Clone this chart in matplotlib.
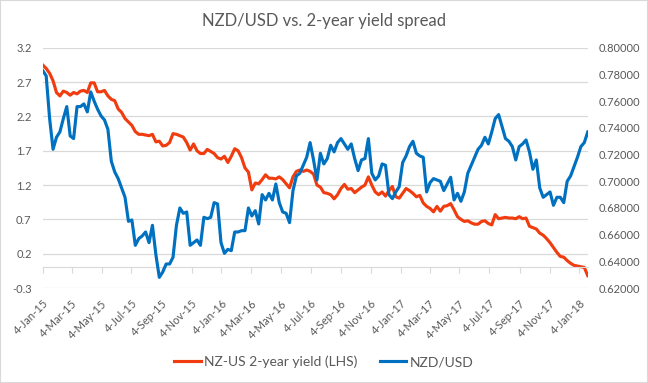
import matplotlib
matplotlib.use("Agg")
import matplotlib.pyplot as plt
import matplotlib.dates as mdates
from matplotlib.patches import Rectangle
import pandas as pd

plt.rcParams['font.family'] = ['Lato', 'DejaVu Sans']

# weekly observations, 4-Jan-15 onwards
start_date = "2015-01-04"

yield_spread = [
    2.95, 2.90, 2.83, 2.72, 2.55, 2.50, 2.57, 2.55, 2.51, 2.55,
    2.53, 2.57, 2.58, 2.55, 2.69, 2.69, 2.56, 2.56, 2.58, 2.50,
    2.45, 2.43, 2.31, 2.26, 2.17, 2.12, 2.07, 1.98, 1.94, 1.94,
    1.93, 1.92, 1.94, 1.83, 1.84, 1.77, 1.78, 1.82, 1.95, 1.94,
    1.92, 1.90, 1.82, 1.71, 1.80, 1.70, 1.66, 1.66, 1.72, 1.69,
    1.66, 1.60, 1.58, 1.62, 1.53, 1.62, 1.73, 1.70, 1.60, 1.45,
    1.39, 1.13, 1.23, 1.22, 1.28, 1.35, 1.30, 1.30, 1.29, 1.32,
    1.28, 1.22, 1.16, 1.32, 1.40, 1.42, 1.40, 1.42, 1.40, 1.36,
    1.20, 1.17, 1.09, 1.08, 1.06, 1.00, 1.06, 1.15, 1.21, 1.14,
    1.15, 1.09, 1.13, 1.17, 1.20, 1.32, 1.20, 1.10, 1.06, 1.10,
    1.04, 1.12, 1.18, 1.03, 1.01, 1.08, 1.15, 1.12, 1.08, 1.03,
    1.05, 0.94, 0.89, 0.86, 0.81, 0.89, 0.82, 0.89, 0.90, 0.93,
    0.84, 0.74, 0.70, 0.67, 0.68, 0.65, 0.63, 0.63, 0.67, 0.68,
    0.64, 0.62, 0.77, 0.71, 0.72, 0.73, 0.72, 0.72, 0.71, 0.74,
    0.71, 0.72, 0.60, 0.58, 0.56, 0.50, 0.47, 0.42, 0.36, 0.29,
    0.22, 0.16, 0.15, 0.10, 0.06, 0.03, 0.02, 0.01, 0.00, -0.12,
]

nzdusd = [
    0.783, 0.779, 0.747, 0.724, 0.733, 0.737, 0.747, 0.756, 0.734, 0.732,
    0.756, 0.756, 0.758, 0.752, 0.767, 0.760, 0.754, 0.749, 0.746, 0.739,
    0.715, 0.707, 0.702, 0.695, 0.688, 0.670, 0.671, 0.652, 0.657, 0.659,
    0.662, 0.654, 0.667, 0.645, 0.628, 0.632, 0.638, 0.638, 0.643, 0.667,
    0.680, 0.676, 0.677, 0.652, 0.654, 0.656, 0.652, 0.673, 0.672, 0.673,
    0.684, 0.683, 0.654, 0.646, 0.649, 0.648, 0.662, 0.662, 0.663, 0.663,
    0.680, 0.674, 0.678, 0.668, 0.690, 0.686, 0.691, 0.686, 0.698, 0.684,
    0.677, 0.676, 0.669, 0.693, 0.704, 0.706, 0.712, 0.718, 0.729, 0.716,
    0.701, 0.721, 0.713, 0.717, 0.727, 0.722, 0.729, 0.732, 0.728, 0.724,
    0.728, 0.717, 0.708, 0.716, 0.717, 0.732, 0.706, 0.701, 0.704, 0.713,
    0.712, 0.690, 0.687, 0.692, 0.696, 0.714, 0.719, 0.726, 0.730, 0.721,
    0.719, 0.718, 0.692, 0.699, 0.702, 0.701, 0.700, 0.693, 0.698, 0.703,
    0.686, 0.691, 0.685, 0.692, 0.706, 0.712, 0.718, 0.724, 0.727, 0.733,
    0.728, 0.737, 0.747, 0.750, 0.741, 0.732, 0.730, 0.726, 0.716, 0.726,
    0.728, 0.731, 0.722, 0.709, 0.716, 0.695, 0.688, 0.690, 0.692, 0.682,
    0.688, 0.688, 0.684, 0.700, 0.704, 0.711, 0.718, 0.726, 0.729, 0.737,
]

left_ticks = [-0.3, 0.2, 0.7, 1.2, 1.7, 2.2, 2.7, 3.2]
right_ticks = [0.62, 0.64, 0.66, 0.68, 0.70, 0.72, 0.74, 0.76, 0.78, 0.80]
date_ticks = pd.date_range("2015-01-01", "2018-01-01", freq="2MS") + pd.Timedelta(days=3)
date_labels = [f'{d.day}-{d:%b-%y}' for d in date_ticks]

dates = pd.date_range(start_date, periods=len(yield_spread), freq="7D")

red = '#F03C0F'
blue = '#0070C0'
grey_text = '#595959'
grid_col = '#D9D9D9'

fig = plt.figure(figsize=(6.48, 3.83), dpi=100)
ax = fig.add_axes([0.066, 0.248, 0.841, 0.627])
ax2 = ax.twinx()

l1, = ax.plot(dates, yield_spread, color=red, lw=2.25, solid_joinstyle='round')
l2, = ax2.plot(dates, nzdusd, color=blue, lw=2.25, solid_joinstyle='round')

ax.set_xlim(dates[0], dates[-1])
ax.set_ylim(left_ticks[0], left_ticks[-1])
ax.set_yticks(left_ticks)
ax.set_yticklabels([f'{v:.1f}' for v in left_ticks])
ax2.set_ylim(right_ticks[0], right_ticks[-1])
ax2.set_yticks(right_ticks)
ax2.set_yticklabels([f'{v:.5f}' for v in right_ticks])

ax.grid(axis='y', color=grid_col, lw=0.9)
ax.set_axisbelow(True)
for a in (ax, ax2):
    for s in a.spines.values():
        s.set_visible(False)
    a.tick_params(axis='y', length=0, colors=grey_text, labelsize=8)
ax.tick_params(axis='y', pad=8)
ax2.tick_params(axis='y', pad=8)

# horizontal axis line crosses the left scale at zero, tick marks hang below it
ax.spines['bottom'].set_visible(True)
ax.spines['bottom'].set_position(('data', 0))
ax.spines['bottom'].set_color(grid_col)
ax.set_xticks(date_ticks)
ax.tick_params(axis='x', direction='out', length=4, color=grid_col, labelbottom=False)

# date labels sit below the plot area
lab = ax.secondary_xaxis('bottom')
lab.set_xticks(mdates.date2num(date_ticks), date_labels)
lab.spines['bottom'].set_visible(False)
lab.tick_params(length=0, pad=7, colors=grey_text, labelsize=8)
for t in lab.get_xticklabels():
    t.set_rotation(45)
    t.set_ha('right')
    t.set_rotation_mode('anchor')

fig.text(0.5, 0.945, "NZD/USD vs. 2-year yield spread", ha='center', va='center',
         fontsize=12, color=grey_text)

fig.legend([l1, l2], ["NZ-US 2-year yield (LHS)", "NZD/USD"], loc='center',
           bbox_to_anchor=(0.5, 0.055), ncol=2, frameon=False, fontsize=10,
           handlelength=1.9, handletextpad=0.25, columnspacing=1.6,
           labelcolor=grey_text)

fig.patches.append(Rectangle((0, 0), 1, 1, transform=fig.transFigure, fill=False,
                             edgecolor=grid_col, lw=1.5))

plt.savefig("out.png", dpi=100)
